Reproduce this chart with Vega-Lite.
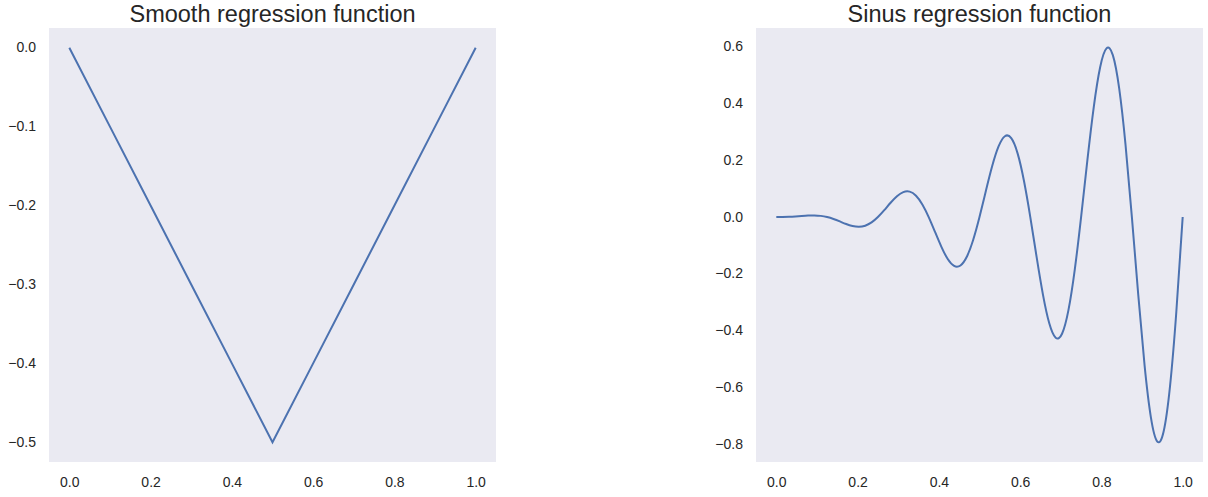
{
  "$schema": "https://vega.github.io/schema/vega-lite/v6.json",
  "padding": {"left": 7, "top": 2, "right": 0, "bottom": 0},
  "background": "white",
  "spacing": 260,
  "bounds": "flush",
  "config": {
    "view": {"fill": "#EAEAF2", "stroke": null},
    "font": "Liberation Sans",
    "axis": {"grid": false, "domain": false, "ticks": false, "tickSize": 0, "labelFont": "Liberation Sans", "labelFontSize": 14, "labelColor": "#262626", "labelPadding": 13.5, "labelFlush": false},
    "title": {"font": "Liberation Sans", "fontSize": 23.5, "fontWeight": "normal", "color": "#262626", "offset": 2}
  },
  "datasets": {
    "smooth": [
      {"x": 0.0, "y": 0.0}, {"x": 0.1, "y": -0.1}, {"x": 0.2, "y": -0.2}, {"x": 0.3, "y": -0.3}, {"x": 0.4, "y": -0.4},
      {"x": 0.5, "y": -0.5}, {"x": 0.6, "y": -0.4}, {"x": 0.7, "y": -0.3}, {"x": 0.8, "y": -0.2}, {"x": 0.9, "y": -0.1}, {"x": 1.0, "y": 0.0}
    ],
    "sinus": [
      {"x": 0, "y": 0}, {"x": 0.015625, "y": 0.0001}, {"x": 0.03125, "y": 0.0006}, {"x": 0.046875, "y": 0.0018},
      {"x": 0.0625, "y": 0.0035}, {"x": 0.078125, "y": 0.0051}, {"x": 0.09375, "y": 0.0056}, {"x": 0.109375, "y": 0.0041},
      {"x": 0.125, "y": 0}, {"x": 0.140625, "y": -0.0068}, {"x": 0.15625, "y": -0.0155}, {"x": 0.171875, "y": -0.0246},
      {"x": 0.1875, "y": -0.0316}, {"x": 0.203125, "y": -0.0343}, {"x": 0.21875, "y": -0.0305}, {"x": 0.234375, "y": -0.0189},
      {"x": 0.25, "y": 0}, {"x": 0.265625, "y": 0.0243}, {"x": 0.28125, "y": 0.0503}, {"x": 0.296875, "y": 0.0733},
      {"x": 0.3125, "y": 0.0879}, {"x": 0.328125, "y": 0.0895}, {"x": 0.34375, "y": 0.0752}, {"x": 0.359375, "y": 0.0445},
      {"x": 0.375, "y": 0}, {"x": 0.390625, "y": -0.0526}, {"x": 0.40625, "y": -0.105}, {"x": 0.421875, "y": -0.148},
      {"x": 0.4375, "y": -0.1723}, {"x": 0.453125, "y": -0.1707}, {"x": 0.46875, "y": -0.1398}, {"x": 0.484375, "y": -0.0808},
      {"x": 0.5, "y": 0}, {"x": 0.515625, "y": 0.0916}, {"x": 0.53125, "y": 0.1796}, {"x": 0.546875, "y": 0.2487},
      {"x": 0.5625, "y": 0.2848}, {"x": 0.578125, "y": 0.2779}, {"x": 0.59375, "y": 0.2244}, {"x": 0.609375, "y": 0.1279},
      {"x": 0.625, "y": 0}, {"x": 0.640625, "y": -0.1414}, {"x": 0.65625, "y": -0.2741}, {"x": 0.671875, "y": -0.3754},
      {"x": 0.6875, "y": -0.4254}, {"x": 0.703125, "y": -0.4111}, {"x": 0.71875, "y": -0.3288}, {"x": 0.734375, "y": -0.1858},
      {"x": 0.75, "y": 0}, {"x": 0.765625, "y": 0.2019}, {"x": 0.78125, "y": 0.3884}, {"x": 0.796875, "y": 0.528},
      {"x": 0.8125, "y": 0.5942}, {"x": 0.828125, "y": 0.5703}, {"x": 0.84375, "y": 0.4531}, {"x": 0.859375, "y": 0.2544},
      {"x": 0.875, "y": 0}, {"x": 0.890625, "y": -0.2732}, {"x": 0.90625, "y": -0.5227}, {"x": 0.921875, "y": -0.7067},
      {"x": 0.9375, "y": -0.791}, {"x": 0.953125, "y": -0.7554}, {"x": 0.96875, "y": -0.5973}, {"x": 0.984375, "y": -0.3338},
      {"x": 1, "y": 0}
    ]
  },
  "hconcat": [
    {
      "title": "Smooth regression function",
      "width": 447,
      "height": 434,
      "data": {"name": "smooth"},
      "mark": {"type": "line", "color": "#4C72B0", "strokeWidth": 2},
      "encoding": {
        "x": {"field": "x", "type": "quantitative", "title": null,
              "scale": {"domain": [-0.05, 1.05], "nice": false, "zero": false},
              "axis": {"values": [0, 0.2, 0.4, 0.6, 0.8, 1.0], "format": ".1f"}},
        "y": {"field": "y", "type": "quantitative", "title": null,
              "scale": {"domain": [-0.525, 0.025], "nice": false, "zero": false},
              "axis": {"values": [-0.5, -0.4, -0.3, -0.2, -0.1, 0.0], "format": ".1f"}}
      }
    },
    {
      "title": "Sinus regression function",
      "width": 447,
      "height": 434,
      "data": {"name": "sinus"},
      "mark": {"type": "line", "color": "#4C72B0", "strokeWidth": 2, "interpolate": "natural"},
      "encoding": {
        "x": {"field": "x", "type": "quantitative", "title": null,
              "scale": {"domain": [-0.05, 1.05], "nice": false, "zero": false},
              "axis": {"values": [0, 0.2, 0.4, 0.6, 0.8, 1.0], "format": ".1f"}},
        "y": {"field": "y", "type": "quantitative", "title": null,
              "scale": {"domain": [-0.863, 0.666], "nice": false, "zero": false},
              "axis": {"values": [-0.8, -0.6, -0.4, -0.2, 0.0, 0.2, 0.4, 0.6], "format": ".1f"}}
      }
    }
  ]
}
